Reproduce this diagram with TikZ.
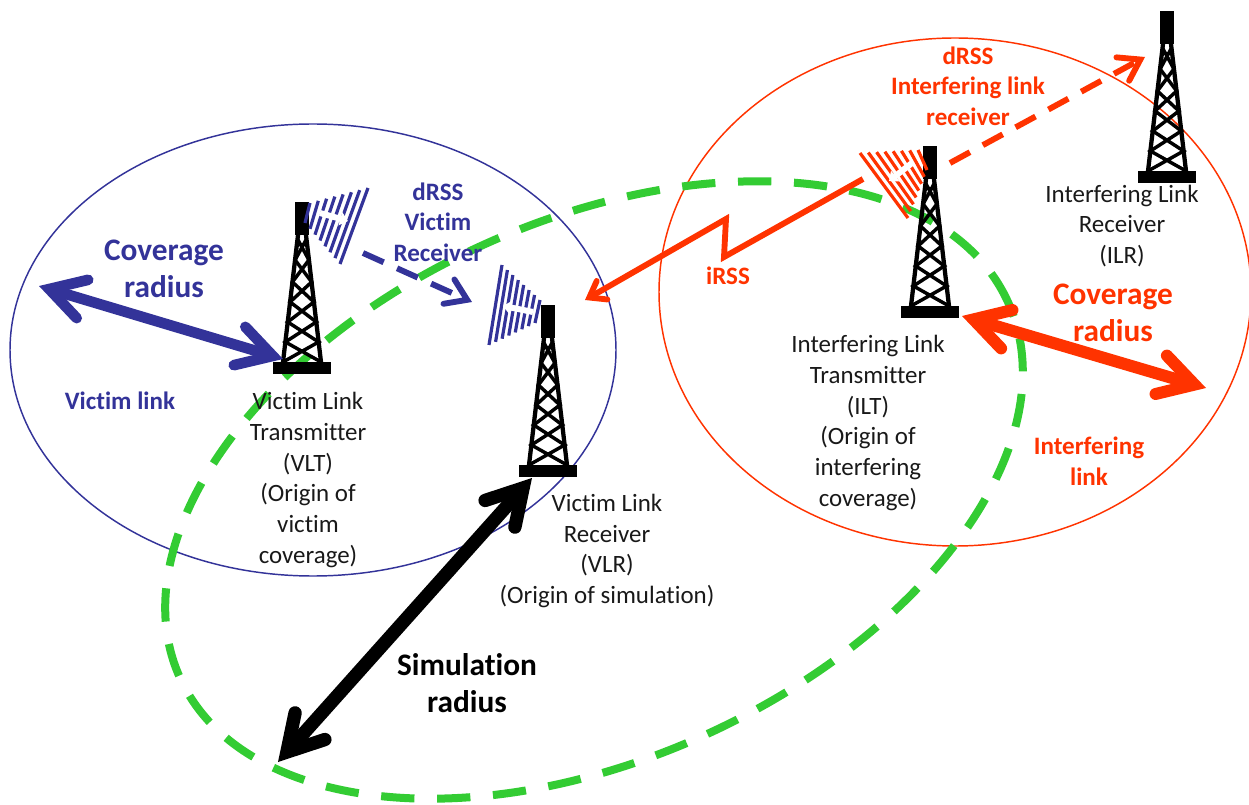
\documentclass[tikz,border=0pt]{standalone}
\usepackage{fontspec}
\setmainfont{Carlito}[Ligatures=NoCommon]
\usetikzlibrary{arrows.meta,calc}
\definecolor{vblue}{HTML}{333399}
\definecolor{iorange}{HTML}{FF3300}
\definecolor{sgreen}{HTML}{33CC33}
\tikzset{
  pics/tower/.style={code={
    \fill[black] (-7,-172) rectangle (7,-139);
    \fill[black] (-29,-12) rectangle (29,0);
    \draw[black,line width=3.2pt,line join=miter] (-19,-12) -- (-4,-139) (19,-12) -- (4,-139);
    \draw[black,line width=2.6pt]
      (-4.5,-135) -- (6.9,-114) -- (-9.6,-92) -- (11.9,-72) -- (-14.3,-52) -- (16.6,-32) -- (-19,-12)
      (4.5,-135) -- (-6.9,-114) -- (9.6,-92) -- (-11.9,-72) -- (14.3,-52) -- (-16.6,-32) -- (19,-12);
  }},
  txt/.style={align=center,font=\fontsize{18.7pt}{23pt}\selectfont,inner sep=0pt,text=black!90},
  lab/.style={align=center,font=\fontsize{18.8pt}{23pt}\selectfont\bfseries,inner sep=0pt},
  big/.style={align=center,font=\fontsize{23.5pt}{28pt}\selectfont\bfseries,inner sep=0pt},
  ell/.style={line width=1.1pt},
  radius arrow/.style={line width=#1,{Straight Barb[length=26pt,width=30pt,line cap=round,line join=miter]}-{Straight Barb[length=26pt,width=30pt,line cap=round,line join=miter]}},
  link arrow/.style={line width=4.4pt,-{Straight Barb[length=11pt,width=16pt,line cap=round,line join=miter]}},
  dash link/.style={line width=4.4pt,-{Straight Barb[length=15pt,width=20pt,line cap=round,line join=miter]},dash pattern=on 17pt off 11pt},
  tiny arrow/.style={white,line width=4.5pt,-{Triangle[length=6pt,width=10pt]}},
}
\newcommand{\hatchwedge}[5]{%
  \foreach \t in {0,0.143,0.286,0.429,0.571,0.714,0.857,1}{
    \draw[#1,line width=2.4pt] ($(#2)!\t!(#4)$) -- ($(#3)!\t!(#5)$);
  }}
\begin{document}
\begin{tikzpicture}[x=0.75pt,y=-0.75pt]
\useasboundingbox (0,0) rectangle (1249,805);
% coverage and simulation areas
\draw[vblue,ell] (313,350) ellipse [x radius=227.25pt,y radius=169.5pt];
\draw[iorange,ell] (955,292) ellipse [x radius=222pt,y radius=190.5pt];
\draw[sgreen,line width=6pt,dash pattern=on 25pt off 17pt] (594,490) ellipse [x radius=341pt,y radius=201.75pt,rotate=24.4];
% towers
\pic (vlt) at (302,374) {tower};
\pic (vlr) at (548,477) {tower};
\pic (ilt) at (930,318) {tower};
\pic (ilr) at (1167,183) {tower};
% antennas
\coordinate (a1) at (310,203); \coordinate (a2) at (305,223); \coordinate (a3) at (368,188); \coordinate (a4) at (340,264);
\hatchwedge{vblue}{a1}{a2}{a3}{a4}
\draw[tiny arrow] (320,213) -- (348,221);
\coordinate (b1) at (540,300); \coordinate (b2) at (535,323); \coordinate (b3) at (502,265); \coordinate (b4) at (489,345);
\hatchwedge{vblue}{b1}{b2}{b3}{b4}
\draw[tiny arrow] (533,312) -- (503,306);
\coordinate (c1) at (918,150); \coordinate (c2) at (927,170); \coordinate (c3) at (860,153); \coordinate (c4) at (908,218);
\hatchwedge{iorange}{c1}{c2}{c3}{c4}
\draw[tiny arrow] (912,163) -- (889,181);
% connector ends
\coordinate (covBa) at (39,286); \coordinate (covBb) at (283,359);
\coordinate (covOa) at (962,316); \coordinate (covOb) at (1206,388);
\coordinate (simA) at (532,478); \coordinate (simB) at (278,762);
\coordinate (dvS) at (363,253); \coordinate (dvE) at (472,302);
\coordinate (diS) at (950,163); \coordinate (diE) at (1145,57);
\coordinate (irS) at (863,179); \coordinate (irM) at (724,257); \coordinate (irN) at (726,219); \coordinate (irE) at (585,300);
% arrows
\draw[vblue,radius arrow=8pt] (covBa) -- (covBb);
\draw[iorange,radius arrow=9pt] (covOa) -- (covOb);
\draw[black,radius arrow=10pt] (simA) -- (simB);
\draw[vblue,dash link] (dvS) -- (dvE);
\draw[iorange,dash link] (diS) -- (diE);
\draw[iorange,link arrow,line join=miter] (irS) -- (irM) -- (irN) -- (irE);
% labels
\node[big,text=vblue] (lcb) at (164,269) {Coverage\\radius};
\node[lab,text=vblue] (lvl) at (120,401) {Victim link};
\node[lab,text=vblue] (ldv) at (438,222) {dRSS\\Victim\\Receiver};
\node[txt] (tvlt) at (308,480) {Victim Link\\Transmitter\\(VLT)\\(Origin of\\victim\\coverage)};
\node[txt] (tvlr) at (607,551) {Victim Link\\Receiver\\(VLR)\\(Origin of simulation)};
\node[big,text=black] (lsim) at (467,683) {Simulation\\radius};
\node[lab,text=iorange] (lir) at (728,276) {iRSS};
\node[lab,text=iorange] (ldi) at (968,86) {dRSS\\Interfering link\\receiver};
\node[txt] (tilr) at (1122,226) {Interfering Link\\Receiver\\(ILR)};
\node[big,text=iorange] (lco) at (1113,313) {Coverage\\radius};
\node[txt] (tilt) at (868,423) {Interfering Link\\Transmitter\\(ILT)\\(Origin of\\interfering\\coverage)};
\node[lab,text=iorange] (lil) at (1089,461) {Interfering\\link};
\end{tikzpicture}
\end{document}
